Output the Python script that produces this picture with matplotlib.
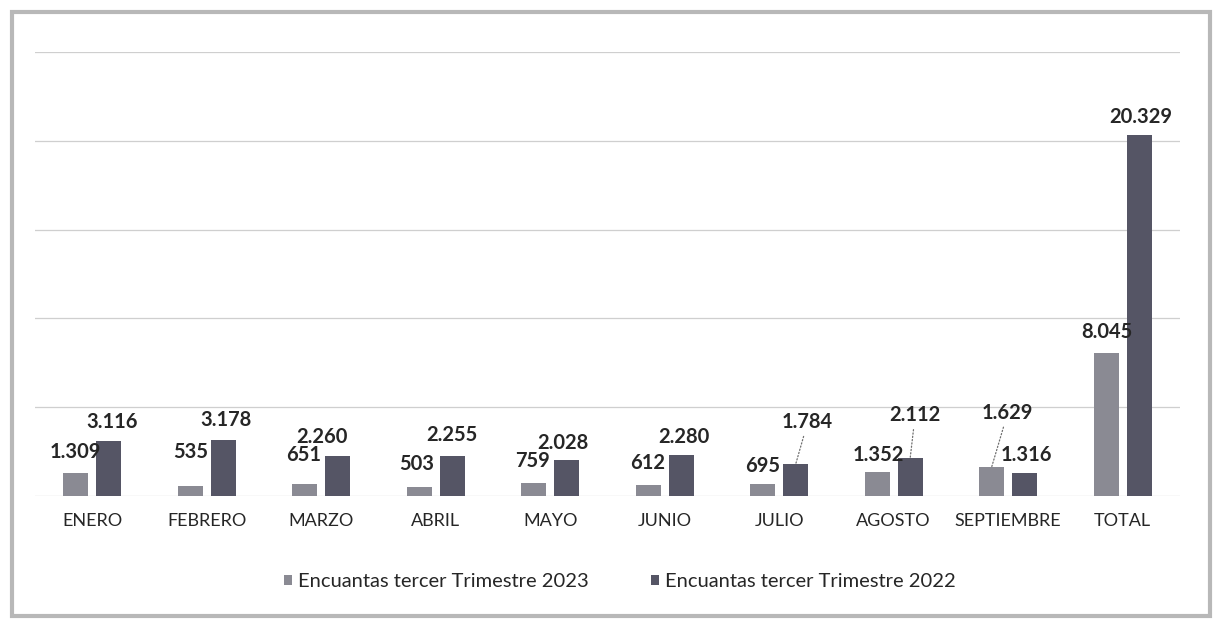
import numpy as np
import matplotlib.pyplot as plt
from matplotlib.patches import Rectangle

months = ["ENERO", "FEBRERO", "MARZO", "ABRIL", "MAYO", "JUNIO",
          "JULIO", "AGOSTO", "SEPTIEMBRE", "TOTAL"]
enc_2023 = [1309, 535, 651, 503, 759, 612, 695, 1352, 1629, 8045]
enc_2022 = [3116, 3178, 2260, 2255, 2028, 2280, 1784, 2112, 1316, 20329]
labels_2023 = ["1.309", "535", "651", "503", "759", "612", "695", "1.352", "1.629", "8.045"]
labels_2022 = ["3.116", "3.178", "2.260", "2.255", "2.028", "2.280", "1.784", "2.112", "1.316", "20.329"]

# label offsets from bar top (pixels), as placed in the original chart
off_2023 = [(0, 21), (0, 34), (-1, 29), (-3, 23), (-1, 22), (-1, 22), (0, 18), (1, 17), (16, 54), (1, 21)]
off_2022 = [(3, 19), (3, 20), (-16, 19), (0, 21), (-4, 17), (3, 18), (12, 42), (5, 43), (2, 18), (2, 18)]
leader_2023 = [False] * 8 + [True, False]
leader_2022 = [False] * 6 + [True, True, False, False]

plt.rcParams["font.family"] = ["Lato", "DejaVu Sans"]

c23 = "#8a8a93"
c22 = "#555565"
txt = "#262626"

fig = plt.figure(figsize=(12.18, 6.21), dpi=100)
ax = fig.add_axes([0.0287, 0.2013, 0.940, 0.715])

x = np.arange(len(months))
w = 0.218
off = 0.144
b23 = ax.bar(x - off, enc_2023, w, color=c23, label="Encuantas tercer Trimestre 2023", zorder=3)
b22 = ax.bar(x + off, enc_2022, w, color=c22, label="Encuantas tercer Trimestre 2022", zorder=3)

for bars, vals, labs, offs, leads in [
    (b23, enc_2023, labels_2023, off_2023, leader_2023),
    (b22, enc_2022, labels_2022, off_2022, leader_2022),
]:
    for bar, v, lab, (dx, dy), lead in zip(bars, vals, labs, offs, leads):
        cx = bar.get_x() + bar.get_width() / 2
        ax.annotate(
            lab, (cx, v), xytext=(dx, dy), textcoords="offset pixels",
            ha="center", va="center", fontsize=14.5, fontweight="bold", color=txt,
            arrowprops=dict(arrowstyle="-", color="#6f6f6f", lw=0.9, linestyle=":",
                            shrinkA=1, shrinkB=0) if lead else None,
            zorder=4,
        )

ax.set_xlim(-0.5, len(months) - 0.5)
ax.set_ylim(0, 25000)
ax.set_yticks(np.arange(0, 25001, 5000))
ax.yaxis.grid(True, color="#cfcfcf", linewidth=0.9, zorder=0)
ax.tick_params(axis="y", left=False, labelleft=False)
ax.tick_params(axis="x", length=0, pad=12, labelsize=13, labelcolor=txt)
ax.set_xticks(x)
ax.set_xticklabels(months)
for s in ax.spines.values():
    s.set_visible(False)

ax.legend(loc="lower center", bbox_to_anchor=(0.509, 0.02), bbox_transform=fig.transFigure,
          ncol=2, frameon=False, fontsize=14.5, handlelength=0.4, handleheight=0.4,
          handletextpad=0.3, columnspacing=3.1, labelcolor=txt)

fig.add_artist(Rectangle((12 / 1218, 5 / 621), 1198 / 1218, 604 / 621, transform=fig.transFigure,
                         fill=False, edgecolor="#b8b8b8", linewidth=3))

fig.savefig("out.png", dpi=100)
